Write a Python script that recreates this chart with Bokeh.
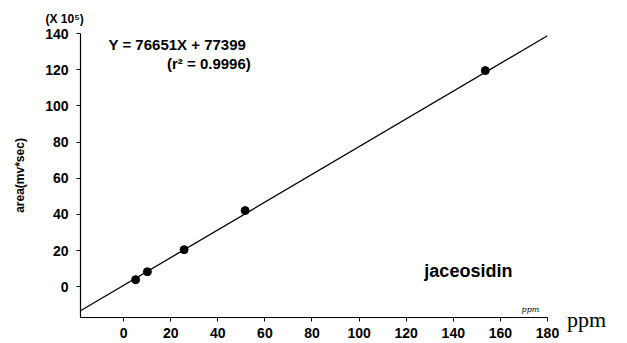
from bokeh.plotting import figure
from bokeh.models import Range1d, FixedTicker, Legend, LegendItem
from bokeh.embed import file_html
from bokeh.resources import INLINE
from bokeh.core.properties import value

# data (area in units of 10^5 mv*sec)
conc_ppm = [5.1, 10.1, 25.7, 51.6, 153.6]
area_e5 = [3.9, 8.3, 20.5, 42.1, 119.5]
slope = 0.76651      # 76651 / 1e5
intercept = 0.77399  # 77399 / 1e5
fit_x = [-18.3, 180.0]
x_ticks = [0, 20, 40, 60, 80, 100, 120, 140, 160, 180]
y_ticks = [0, 20, 40, 60, 80, 100, 120, 140]

FONT = "Liberation Sans"

p = figure(frame_width=467, frame_height=284, title="(X 10\u2075)",
           min_border_left=80, min_border_right=80, min_border_top=33, min_border_bottom=18,
           x_range=Range1d(-18.3, 180), y_range=Range1d(-17, 140),
           output_backend="svg", toolbar_location=None)
p.outline_line_color = None
p.grid.visible = False
p.background_fill_color = "white"
p.border_fill_color = "white"

p.title.align = "left"
p.title.offset = -35
p.title.text_font = FONT
p.title.text_font_style = "bold"
p.title.text_font_size = "12px"
p.title.text_color = "black"
p.title.standoff = 15

for ax in (p.xaxis[0], p.yaxis[0]):
    ax.axis_line_color = "black"
    ax.axis_line_width = 1.2
    ax.major_tick_line_color = "black"
    ax.major_tick_in = 0
    ax.major_tick_out = 4
    ax.minor_tick_line_color = None
    ax.major_label_text_font = FONT
    ax.major_label_text_font_style = "bold"
    ax.major_label_text_font_size = "14px"
    ax.major_label_text_color = "black"

p.xaxis[0].ticker = FixedTicker(ticks=x_ticks)
p.yaxis[0].ticker = FixedTicker(ticks=y_ticks)
p.xaxis[0].major_label_standoff = 6
p.yaxis[0].major_label_standoff = 8
p.yaxis[0].axis_label = "area(mv*sec)"
p.yaxis[0].axis_label_text_font = FONT
p.yaxis[0].axis_label_text_font_style = "bold"
p.yaxis[0].axis_label_text_font_size = "12px"
p.yaxis[0].axis_label_text_color = "black"
p.yaxis[0].axis_label_standoff = 15

fit_y = [slope * x + intercept for x in fit_x]
p.line(fit_x, fit_y, line_color="black", line_width=1.3)
p.scatter(conc_ppm, area_e5, size=8, color="black")

p.text(x=[-6.4], y=[134], text=["Y = 76651X + 77399"], text_font=value(FONT),
       text_font_style="bold", text_font_size="15px", text_baseline="middle", text_align="left")
p.text(x=[54], y=[123.5], text=["(r\u00b2 = 0.9996)"], text_font=value(FONT),
       text_font_style="bold", text_font_size="15px", text_baseline="middle", text_align="right")
p.text(x=[146.4], y=[8.9], text=["jaceosidin"], text_font=value(FONT),
       text_font_style="bold", text_font_size="18px", text_baseline="middle", text_align="center")
p.text(x=[169], y=[-12.5], text=["ppm"], text_font=value("DejaVu Serif"),
       text_font_style="italic", text_font_size="8px", text_baseline="middle", text_align="left")

# unit label to the right of the x axis, as a legend entry in the right panel
dummy = p.scatter([], [], size=0, alpha=0)
unit_legend = Legend(items=[LegendItem(label="ppm", renderers=[dummy])],
                     location=(20, -16), glyph_width=0, glyph_height=20, label_standoff=0,
                     padding=0, margin=0, spacing=0, border_line_color=None,
                     background_fill_alpha=0, label_text_font="Liberation Serif",
                     label_text_font_size="22px", label_text_color="black",
                     label_height=20, label_text_baseline="middle")
p.add_layout(unit_legend, "right")

open("out.html", "w").write(file_html(p, INLINE))
